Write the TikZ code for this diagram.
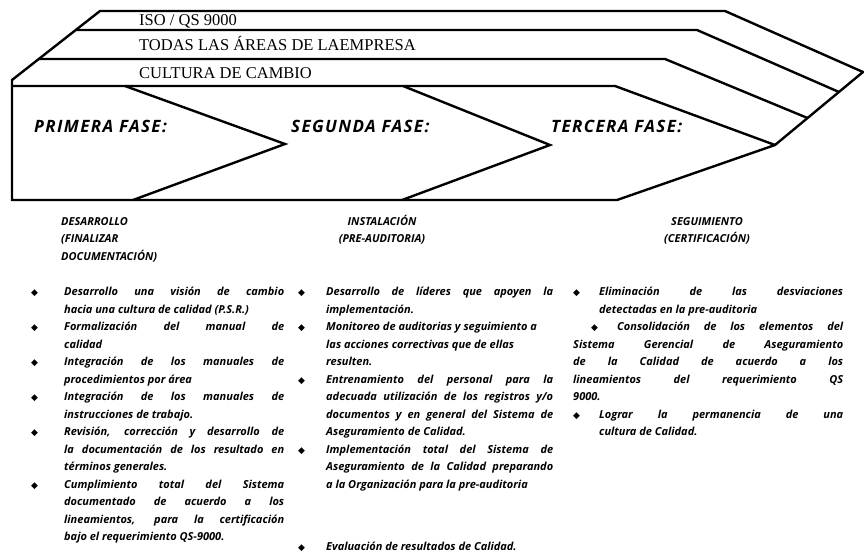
\documentclass[tikz,border=0pt]{standalone}
\usepackage{fontspec}
\setmainfont{Liberation Serif}
\setsansfont{Open Sans}
\newfontfamily\fasefont[LetterSpace=8]{Open Sans}
\newfontfamily\bulletfont{DejaVu Sans}
\newcommand{\bul}{{\bulletfont\fontsize{9}{9}\selectfont ◆}}
\newcommand{\itm}{\par\noindent\llap{\hbox to\leftskip{\bul\hfil}}\strut}
\begin{document}
\begin{tikzpicture}[x=1pt, y=-1pt, line width=2.4pt,
  band/.style={font=\rmfamily\fontsize{16.5}{16.5}\selectfont, anchor=base west, inner sep=0pt},
  fase/.style={font=\fasefont\bfseries\itshape\fontsize{17}{17}\selectfont, anchor=base west, inner sep=0pt},
  head/.style={font=\sffamily\bfseries\itshape\fontsize{11}{11}\selectfont, inner sep=0pt},
  column/.style={font=\sffamily\bfseries\itshape\fontsize{11}{17.5}\selectfont, anchor=north west,
    inner sep=0pt, align=justify}]
  \useasboundingbox (0,0) rectangle (864,555);
  \draw (100,11) -- (725,11) -- (863,72) -- (775,145) -- (617,200) -- (12,200) -- (12,80) -- cycle;
  \draw (76,30) -- (697,30) -- (839,92);
  \draw (39,59) -- (665,59) -- (807.5,118);
  \draw (12,86) -- (615,86) -- (775,145);
  \draw (125,86) -- (285,144) -- (133,200);
  \draw (403,86) -- (550,145) -- (402,200);

  \node[band] (iso) at (138,25.5) {ISO / QS 9000};
  \node[band] (areas) at (138,50.5) {TODAS LAS ÁREAS DE LAEMPRESA};
  \node[band] (cultura) at (138,78.5) {CULTURA DE CAMBIO};

  \node[fase] (fase1) at (33,132) {PRIMERA FASE:};
  \node[fase] (fase2) at (290,132) {SEGUNDA FASE:};
  \node[fase] (fase3) at (550,132) {TERCERA FASE:};

  \node[head, anchor=base west] (desarrollo) at (60,225) {DESARROLLO};
  \node[head, anchor=base west] (finalizar) at (60,242.5) {(FINALIZAR};
  \node[head, anchor=base west] (documentacion) at (60,260) {DOCUMENTACIÓN)};
  \node[head, anchor=base] (instalacion) at (382,225) {INSTALACIÓN};
  \node[head, anchor=base] (preauditoria) at (382,242.5) {(PRE-AUDITORIA)};
  \node[head, anchor=base] (seguimiento) at (707,225) {SEGUIMIENTO};
  \node[head, anchor=base] (certificacion) at (707,242.5) {(CERTIFICACIÓN)};

  \node[column, text width=253pt] (primera) at (30,277.25) {\leftskip=33pt
    \itm Desarrollo una visión de cambio\linebreak hacia una cultura de calidad (P.S.R.)
    \itm Formalización del manual de\linebreak calidad
    \itm Integración de los manuales de\linebreak procedimientos por área
    \itm Integración de los manuales de\linebreak instrucciones de trabajo.
    \itm Revisión, corrección y desarrollo de\linebreak la documentación de los resultado en\linebreak términos generales.
    \itm Cumplimiento total del Sistema\linebreak documentado de acuerdo a los\linebreak lineamientos, para la certificación\linebreak bajo el requerimiento QS-9000.\par};

  \node[column, text width=255pt] (segunda) at (297,277.25) {\leftskip=28pt
    \itm Desarrollo de líderes que apoyen la\linebreak implementación.
    \itm Monitoreo de auditorias y seguimiento a\newline las acciones correctivas que de ellas\newline resulten.
    \itm Entrenamiento del personal para la\linebreak adecuada utilización de los registros y/o\linebreak documentos y en general del Sistema de\linebreak Aseguramiento de Calidad.
    \itm Implementación total del Sistema de\linebreak Aseguramiento de la Calidad preparando\linebreak a la Organización para la pre-auditoria
    \par\vskip 45pt
    \itm Evaluación de resultados de Calidad.\par};

  \node[column, text width=270pt] (tercera) at (572,277.25) {\leftskip=26pt
    \itm Eliminación de las desviaciones\linebreak detectadas en la pre-auditoria
    \par{\leftskip=0pt\noindent\hspace*{18pt}\hbox to 26pt{\bul\hfil}\strut Consolidación de los elementos del\linebreak Sistema Gerencial de Aseguramiento\linebreak de la Calidad de acuerdo a los\linebreak lineamientos del requerimiento QS\linebreak 9000.\par}
    \itm Lograr la permanencia de una\linebreak cultura de Calidad.\par};
\end{tikzpicture}
\end{document}
